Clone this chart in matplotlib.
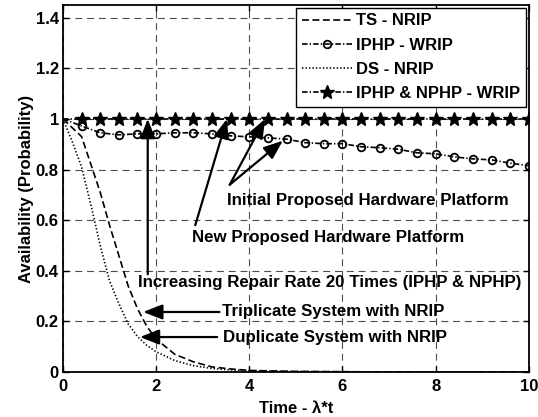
import numpy as np
import matplotlib
matplotlib.use("Agg")
import matplotlib.pyplot as plt

plt.rcParams['font.family'] = ['Liberation Sans', 'DejaVu Sans']
plt.rcParams['font.weight'] = 'bold'
plt.rcParams['lines.scale_dashes'] = False

# Time axis (lambda * t)
t_ts = [0.0, 0.4, 0.6, 0.8, 1.0, 1.2, 1.4, 1.6, 1.8, 2.0, 2.4, 2.8, 3.2, 3.6, 4.0, 5.0, 6.0, 7.0, 8.0, 9.0, 10.0]
ts_nrip = [1.0, 0.93, 0.82, 0.71, 0.58, 0.46, 0.34, 0.25, 0.18, 0.13, 0.07, 0.04, 0.02, 0.012, 0.006, 0.002, 0.001, 0.0, 0.0, 0.0, 0.0]

t_ds = [0.0, 0.2, 0.4, 0.6, 0.8, 1.0, 1.2, 1.4, 1.6, 1.8, 2.0, 2.4, 2.8, 3.2, 3.6, 4.0, 5.0, 6.0, 7.0, 8.0, 9.0, 10.0]
ds_nrip = [1.0, 0.91, 0.81, 0.66, 0.5, 0.36, 0.27, 0.19, 0.14, 0.105, 0.08, 0.045, 0.025, 0.014, 0.008, 0.005, 0.002, 0.001, 0.0, 0.0, 0.0, 0.0]

t_wrip = [0.0, 0.4, 0.8, 1.2, 1.6, 2.0, 2.4, 2.8, 3.2, 3.6, 4.0, 4.4, 4.8, 5.2, 5.6, 6.0,
          6.4, 6.8, 7.2, 7.6, 8.0, 8.4, 8.8, 9.2, 9.6, 10.0]
iphp_wrip = [1.0, 0.972, 0.945, 0.937, 0.941, 0.941, 0.945, 0.945, 0.941, 0.933, 0.929, 0.925, 0.92,
             0.906, 0.902, 0.902, 0.89, 0.886, 0.88, 0.866, 0.862, 0.85, 0.842, 0.838, 0.825, 0.815]
iphp_nphp_wrip = [1.0] * len(t_wrip)

series_labels = ['TS - NRIP', 'IPHP - WRIP', 'DS - NRIP', 'IPHP & NPHP - WRIP']
x_ticks = [0, 2, 4, 6, 8, 10]
y_ticks = [0, 0.2, 0.4, 0.6, 0.8, 1.0, 1.2, 1.4]
y_tick_labels = ['0', '0.2', '0.4', '0.6', '0.8', '1', '1.2', '1.4']

FS = 12
FS_NOTE = 12.2

fig = plt.figure(figsize=(5.38, 4.17), dpi=100)
ax = fig.add_axes([0.117, 0.108, 0.866, 0.880])

lw = 1.2
ax.plot(t_ts, ts_nrip, color='k', lw=lw, linestyle=(0, (5, 2.5)), label=series_labels[0])
ax.plot(t_wrip, iphp_wrip, color='k', lw=lw, linestyle=(0, (4, 1.5, 1, 1.5)),
        marker='o', markersize=5.5, markerfacecolor='none', markeredgewidth=1.3,
        markevery=list(range(1, len(t_wrip))), label=series_labels[1])
ax.plot(t_ds, ds_nrip, color='k', lw=lw, linestyle=(0, (1, 1.5)), label=series_labels[2])
ax.plot(t_wrip, iphp_nphp_wrip, color='k', lw=lw, linestyle=(0, (4, 1.5, 1, 1.5)),
        marker='*', markersize=10.5, markerfacecolor='k', markeredgecolor='k',
        markevery=list(range(1, len(t_wrip))), label=series_labels[3])

ax.set_xlim(0, 10)
ax.set_ylim(0, 1.45)
ax.set_xticks(x_ticks)
ax.set_yticks(y_ticks)
ax.set_yticklabels(y_tick_labels)
ax.tick_params(direction='in', top=True, right=True, labelsize=FS, length=4, width=1)
ax.tick_params(axis='x', pad=5)
ax.tick_params(axis='y', pad=3)
for lab in ax.get_xticklabels() + ax.get_yticklabels():
    lab.set_fontweight('bold')

ax.grid(True, color='0.3', linestyle=(0, (5, 3.5)), linewidth=0.8)
for sp in ax.spines.values():
    sp.set_linewidth(1.3)

ax.set_xlabel('Time - λ*t', fontsize=FS, fontweight='bold', labelpad=5)
ax.set_ylabel('Availability (Probability)', fontsize=FS, fontweight='bold', labelpad=1)

leg = ax.legend(loc='upper right', fontsize=FS, frameon=True, fancybox=False,
                edgecolor='k', framealpha=1, borderaxespad=0.15, handlelength=3.0,
                handletextpad=0.25, labelspacing=0.55, borderpad=0.35)
leg.get_frame().set_linewidth(1.0)
for txt in leg.get_texts():
    txt.set_fontweight('bold')

arrow_kw = dict(arrowstyle='-|>,head_length=0.9,head_width=0.35', color='k', lw=1.6,
                shrinkA=0, shrinkB=0, mutation_scale=13)

# Platform annotations
ax.text(3.52, 0.678, 'Initial Proposed Hardware Platform', fontsize=FS_NOTE, fontweight='bold',
        ha='left', va='center')
ax.annotate('', xy=(4.34, 1.0), xytext=(3.58, 0.74), arrowprops=arrow_kw)
ax.annotate('', xy=(4.72, 0.914), xytext=(3.58, 0.74), arrowprops=arrow_kw)

ax.text(2.77, 0.533, 'New Proposed Hardware Platform', fontsize=FS_NOTE, fontweight='bold',
        ha='left', va='center')
ax.annotate('', xy=(3.52, 1.0), xytext=(2.84, 0.58), arrowprops=arrow_kw)

ax.text(1.61, 0.355, 'Increasing Repair Rate 20 Times (IPHP & NPHP)', fontsize=FS_NOTE,
        fontweight='bold', ha='left', va='center')
ax.annotate('', xy=(1.82, 1.0), xytext=(1.82, 0.386), arrowprops=arrow_kw)

ax.text(3.41, 0.237, 'Triplicate System with NRIP', fontsize=FS_NOTE, fontweight='bold',
        ha='left', va='center')
ax.annotate('', xy=(1.72, 0.237), xytext=(3.36, 0.237), arrowprops=arrow_kw)

ax.text(3.43, 0.138, 'Duplicate System with NRIP', fontsize=FS_NOTE, fontweight='bold',
        ha='left', va='center')
ax.annotate('', xy=(1.65, 0.138), xytext=(3.31, 0.138), arrowprops=arrow_kw)

fig.savefig('out.png', dpi=100)
